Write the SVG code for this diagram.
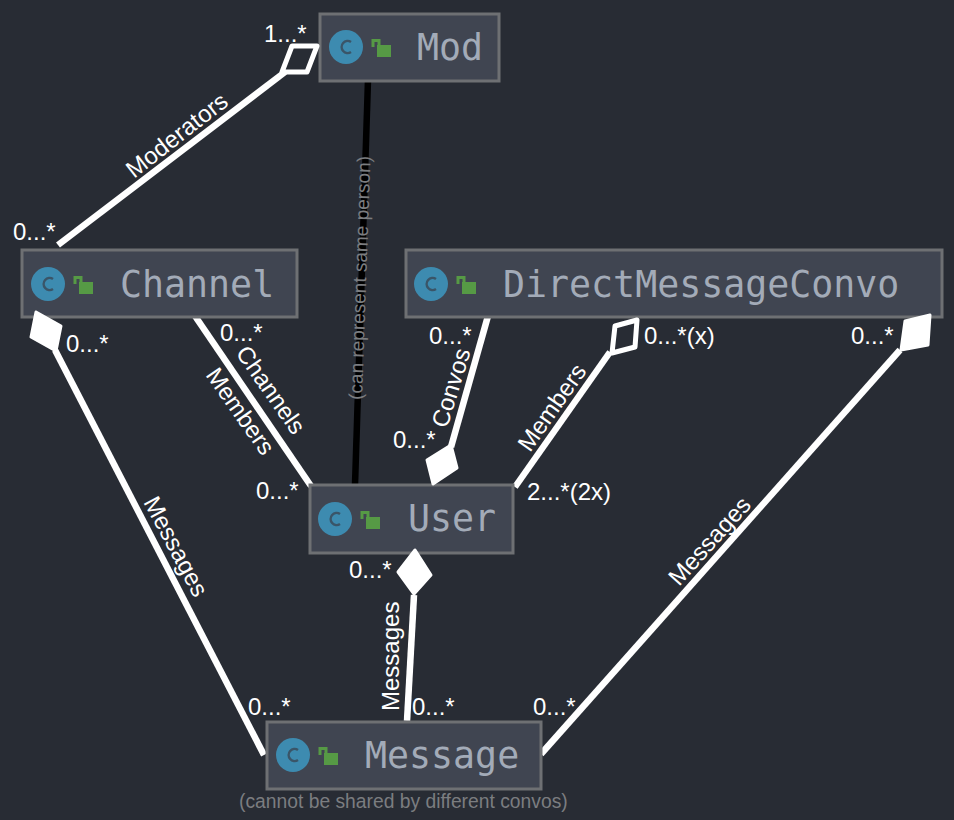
<svg xmlns="http://www.w3.org/2000/svg" width="954" height="820" viewBox="0 0 954 820">
<style>
.box{fill:#404551;stroke:#6e7073;stroke-width:3}
.ic{fill:#3d8bb0}
.icc{fill:none;stroke:#3a5568;stroke-width:2.500}
.lk{fill:#569a45}
.lks{fill:none;stroke:#569a45;stroke-width:3}
.nm{font-family:"DejaVu Sans Mono",monospace;font-size:36.6px;fill:#a3abb8}
.c{fill:none;stroke:#fff;stroke-width:6.500}
.k{fill:none;stroke:#000;stroke-width:6.500}
.fd{fill:#fff;stroke:#fff;stroke-width:3;stroke-linejoin:round}
.od{fill:#282c34;stroke:#fff;stroke-width:5;stroke-linejoin:round}
.t{font-family:"Liberation Sans",Arial,sans-serif;font-size:24px;fill:#fff}
.g{font-family:"Liberation Sans",Arial,sans-serif;fill:#7b7d80}
</style>
<defs>
<g id="icon">
<circle class="ic" r="17"/>
<path class="icc" d="M5 -5A6 6 0 1 0 5 5"/>
<path class="lks" d="M27 0V-6.500H33V0"/>
<rect class="lk" x="31" y="-2" width="14" height="12"/>
</g>
</defs>
<rect width="954" height="820" fill="#282c34"/>
<g id="connectors">
<path class="k" d="M368 80L355 485"/>
<path class="c" d="M58 245L285 72"/>
<path class="c" d="M195 316L311 486"/>
<path class="c" d="M488 316L451 447"/>
<path class="c" d="M515 487L610 352"/>
<path class="c" d="M55 350L264 755"/>
<path class="c" d="M414 595L407 721"/>
<path class="c" d="M541 754L900 350"/>
</g>
<g id="mod"><rect class="box" x="320" y="14" width="179" height="67"/><use href="#icon" x="346" y="47"/><text class="nm" x="417" y="60">Mod</text></g>
<g id="channel"><rect class="box" x="22" y="250" width="275" height="67"/><use href="#icon" x="48" y="284"/><text class="nm" x="120" y="297">Channel</text></g>
<g id="dmc"><rect class="box" x="406" y="250" width="536" height="67"/><use href="#icon" x="431" y="284"/><text class="nm" x="503" y="297">DirectMessageConvo</text></g>
<g id="user"><rect class="box" x="310" y="485" width="203" height="68"/><use href="#icon" x="335" y="519"/><text class="nm" x="408" y="531">User</text></g>
<g id="message"><rect class="box" x="267" y="722" width="274" height="67"/><use href="#icon" x="293" y="755"/><text class="nm" x="365" y="768">Message</text></g>
<g id="ends">
<path class="od" d="M292 46L317 46L307 72L282 72Z"/>
<path class="fd" d="M36 312L61 326L56 351L31 337Z"/>
<path class="fd" d="M451 445L457 468L433 484L427 460Z"/>
<path class="fd" d="M415 550L431 575L414 594L398 572Z"/>
<path class="od" d="M615 326L637 320L635 347L612 353Z"/>
<path class="fd" d="M905 321L930 315L928 345L901 350Z"/>
</g>
<g id="labels">
<text class="t" x="264" y="42">1...*</text>
<text class="t" x="13" y="240">0...*</text>
<text class="t" x="66" y="352">0...*</text>
<text class="t" x="220" y="341">0...*</text>
<text class="t" x="429" y="344">0...*</text>
<text class="t" x="644" y="344">0...*(x)</text>
<text class="t" x="851" y="344">0...*</text>
<text class="t" x="393" y="448">0...*</text>
<text class="t" x="256" y="499">0...*</text>
<text class="t" x="527" y="500">2...*(2x)</text>
<text class="t" x="349" y="578">0...*</text>
<text class="t" x="248" y="715">0...*</text>
<text class="t" x="412" y="715">0...*</text>
<text class="t" x="533" y="715">0...*</text>
<text class="t" transform="translate(134 179) rotate(-38)">Moderators</text>
<text class="t" transform="translate(235 353) rotate(55)">Channels</text>
<text class="t" transform="translate(205 375) rotate(55)">Members</text>
<text class="t" transform="translate(447 429) rotate(-73)">Convos</text>
<text class="t" transform="translate(530 453) rotate(-55)">Members</text>
<text class="t" transform="translate(143 502) rotate(62)">Messages</text>
<text class="t" transform="translate(399 711) rotate(-90)">Messages</text>
<text class="t" transform="translate(679 587) rotate(-48)">Messages</text>
<text class="g" font-size="19" transform="translate(362 400) rotate(-88)">(can represent same person)</text>
<text class="g" font-size="19.300" x="239" y="808">(cannot be shared by different convos)</text>
</g>
</svg>
